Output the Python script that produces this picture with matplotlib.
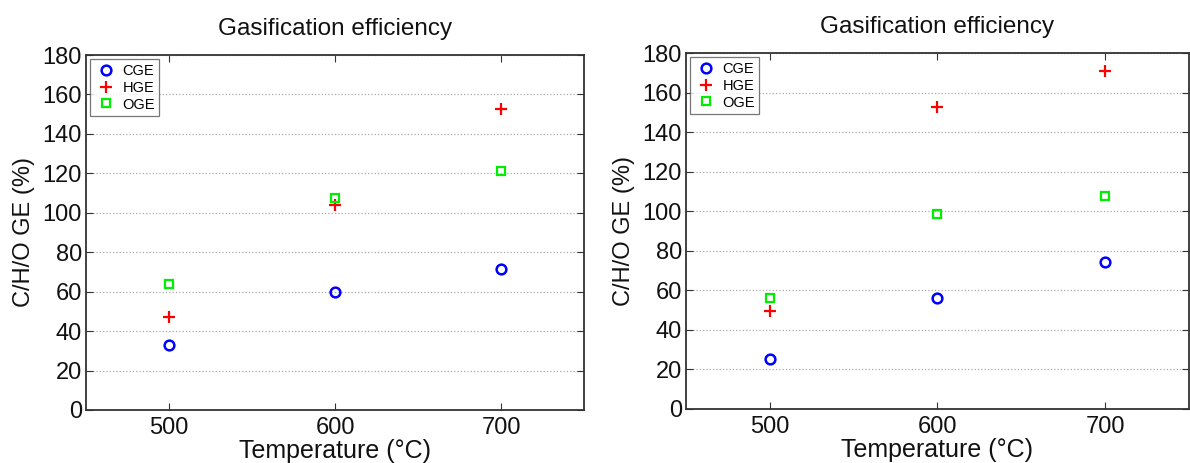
import matplotlib
matplotlib.use("Agg")
import matplotlib.pyplot as plt

plt.rcParams['font.family'] = ['Liberation Sans', 'DejaVu Sans']

temps = [500, 600, 700]

# left panel
cge_a = [33.1, 59.6, 71.7]
hge_a = [47.3, 104.0, 152.4]
oge_a = [63.7, 107.7, 121.3]

# right panel
cge_b = [25.1, 56.2, 74.4]
hge_b = [49.2, 152.6, 170.8]
oge_b = [56.2, 98.3, 107.6]

yticks = list(range(0, 181, 20))

fig = plt.figure(figsize=(11.9, 4.63), dpi=100)
ax1 = fig.add_axes([0.0723, 0.1145, 0.4185, 0.7667])
ax2 = fig.add_axes([0.5765, 0.1175, 0.4225, 0.768])


def draw(ax, cge, hge, oge):
    ax.plot(temps, cge, 'o', color='#0000ff', mfc='none', mew=1.8, ms=7, label='CGE')
    ax.plot(temps, hge, '+', color='#ff0000', mew=1.6, ms=8, label='HGE')
    ax.plot(temps, oge, 's', color='#00ee00', mfc='none', mew=1.6, ms=6, label='OGE')
    ax.set_xlim(450, 750)
    ax.set_ylim(0, 180)
    ax.set_xticks(temps)
    ax.set_yticks(yticks)
    ax.yaxis.grid(True, linestyle=':', color='#aaaaaa', linewidth=0.9)
    ax.tick_params(direction='in', top=True, right=True, labelsize=17, length=5,
                   color='#333333', labelcolor='#111111')
    ax.tick_params(axis='x', pad=5)
    ax.tick_params(axis='y', pad=3)
    for s in ax.spines.values():
        s.set_color('#333333')
        s.set_linewidth(1.3)
    ax.set_title('Gasification efficiency', fontsize=17.5, pad=14.5, color='#111111')
    ax.set_xlabel('Temperature (\u00b0C)', fontsize=18, labelpad=0, color='#111111')
    ax.set_ylabel('C/H/O GE (%)', fontsize=17, labelpad=5, color='#111111')
    leg = ax.legend(loc='upper left', fontsize=10.5, fancybox=False, edgecolor='#555555',
                    borderaxespad=0.3, handletextpad=0.3, labelspacing=0.2,
                    borderpad=0.3, handlelength=1.6)
    leg.get_frame().set_linewidth(0.9)


draw(ax1, cge_a, hge_a, oge_a)
draw(ax2, cge_b, hge_b, oge_b)

fig.savefig('out.png', dpi=100)
